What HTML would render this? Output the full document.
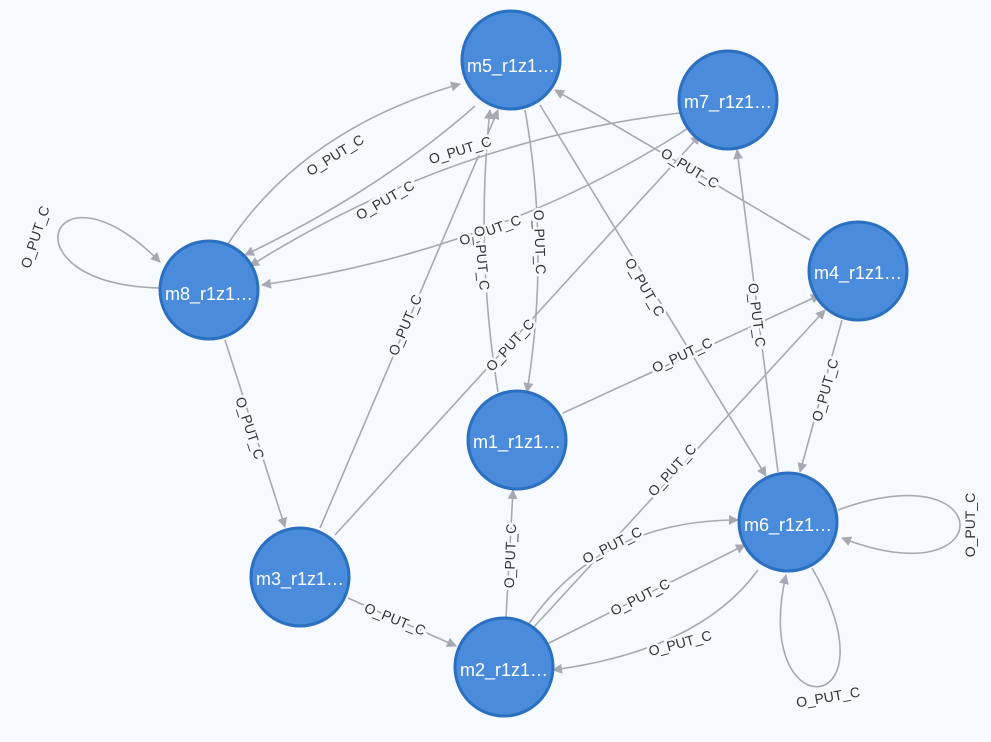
<!DOCTYPE html>
<html><head><meta charset="utf-8"><style>
html,body{margin:0;padding:0;background:#f6f9fd;}
svg{display:block;font-family:"Liberation Sans",sans-serif;}
.e{fill:none;stroke:#a6a9b1;stroke-width:1.6;marker-end:url(#a);}
.l{font-size:14px;fill:#333;text-anchor:middle;dominant-baseline:central;paint-order:stroke;stroke:#f6f9fd;stroke-width:5px;}
.n{fill:#4a8cdb;stroke:#2a6fc0;stroke-width:3;}
.t{font-size:18px;fill:#fff;text-anchor:middle;dominant-baseline:central;}
</style></head><body>
<svg width="991" height="742" viewBox="0 0 991 742">
<defs><marker id="a" viewBox="0 0 10 10" refX="9" refY="5" markerWidth="10" markerHeight="10" markerUnits="userSpaceOnUse" orient="auto"><path d="M0,0 L10,5 L0,10 z" fill="#a6a9b1"/></marker></defs>
<path class="e" d="M224,250 Q300,130 460,84"/>
<path class="e" d="M475,106 Q380,190 245,255"/>
<path class="e" d="M680,113 Q450,140 250,266"/>
<path class="e" d="M690,127 Q500,250 262,285"/>
<path class="e" d="M160,288 C0,285 50,150 160,262"/>
<path class="e" d="M225,340 L285,527"/>
<path class="e" d="M320,528 L498,110"/>
<path class="e" d="M335,535 L700,135"/>
<path class="e" d="M498,392 Q475,250 490,110"/>
<path class="e" d="M525,110 Q550,250 527,392"/>
<path class="e" d="M540,105 L766,476"/>
<path class="e" d="M810,240 L555,90"/>
<path class="e" d="M778,472 L737,150"/>
<path class="e" d="M563,413 L820,295"/>
<path class="e" d="M842,320 L800,472"/>
<path class="e" d="M533,628 L825,310"/>
<path class="e" d="M506,618 L513,490"/>
<path class="e" d="M528,625 Q600,520 738,520"/>
<path class="e" d="M545,645 L745,545"/>
<path class="e" d="M758,570 Q700,650 553,670"/>
<path class="e" d="M348,598 L456,646"/>
<path class="e" d="M838,510 C1000,450 1000,600 842,538"/>
<path class="e" d="M812,568 C900,720 750,730 786,575"/>
<text class="l" transform="translate(335,155) rotate(-32)">O_PUT_C</text>
<text class="l" transform="translate(385,200) rotate(-30)">O_PUT_C</text>
<text class="l" transform="translate(460,150) rotate(-17)">O_PUT_C</text>
<text class="l" transform="translate(490,230) rotate(-20)">O_PUT_C</text>
<text class="l" transform="translate(35,237) rotate(-72)">O_PUT_C</text>
<text class="l" transform="translate(250,428) rotate(72)">O_PUT_C</text>
<text class="l" transform="translate(405,325) rotate(-67)">O_PUT_C</text>
<text class="l" transform="translate(510,345) rotate(-48)">O_PUT_C</text>
<text class="l" transform="translate(482,258) rotate(85)">O_PUT_C</text>
<text class="l" transform="translate(540,242) rotate(88)">O_PUT_C</text>
<text class="l" transform="translate(645,287) rotate(60)">O_PUT_C</text>
<text class="l" transform="translate(690,168) rotate(31)">O_PUT_C</text>
<text class="l" transform="translate(757,315) rotate(83)">O_PUT_C</text>
<text class="l" transform="translate(682,355) rotate(-25)">O_PUT_C</text>
<text class="l" transform="translate(825,390) rotate(-74)">O_PUT_C</text>
<text class="l" transform="translate(672,470) rotate(-48)">O_PUT_C</text>
<text class="l" transform="translate(510,556) rotate(-88)">O_PUT_C</text>
<text class="l" transform="translate(612,545) rotate(-27)">O_PUT_C</text>
<text class="l" transform="translate(640,597) rotate(-27)">O_PUT_C</text>
<text class="l" transform="translate(680,643) rotate(-15)">O_PUT_C</text>
<text class="l" transform="translate(395,619) rotate(22)">O_PUT_C</text>
<text class="l" transform="translate(970,525) rotate(-90)">O_PUT_C</text>
<text class="l" transform="translate(828,697) rotate(-10)">O_PUT_C</text>
<circle class="n" cx="511" cy="60" r="49"/><text class="t" x="511" y="66">m5_r1z1…</text>
<circle class="n" cx="728" cy="100" r="49"/><text class="t" x="728" y="102">m7_r1z1…</text>
<circle class="n" cx="858" cy="271" r="49"/><text class="t" x="858" y="273">m4_r1z1…</text>
<circle class="n" cx="209" cy="290" r="49"/><text class="t" x="209" y="294">m8_r1z1…</text>
<circle class="n" cx="517" cy="440" r="49"/><text class="t" x="517" y="442">m1_r1z1…</text>
<circle class="n" cx="788" cy="522" r="49"/><text class="t" x="788" y="525">m6_r1z1…</text>
<circle class="n" cx="300" cy="577" r="49"/><text class="t" x="300" y="579">m3_r1z1…</text>
<circle class="n" cx="504" cy="667" r="49"/><text class="t" x="504" y="670">m2_r1z1…</text>
</svg>
</body></html>
